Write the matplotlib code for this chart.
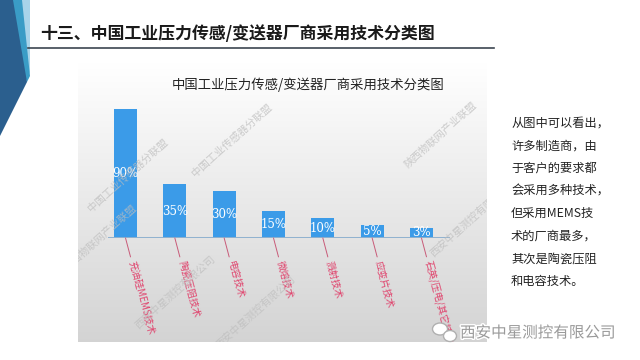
import numpy as np
import matplotlib
matplotlib.use('Agg')
import matplotlib.pyplot as plt
from matplotlib.patches import Polygon, Rectangle, Ellipse
import matplotlib.patheffects as pe

plt.rcParams['font.family'] = ['Noto Sans CJK SC', 'DejaVu Sans']

# data
categories = ['充油硅MEMS技术', '陶瓷压阻技术', '电容技术', '微熔技术',
              '溅射技术', '应变片技术', '石英/压电/其它技术']
values = [90, 35, 30, 15, 10, 5, 3]
value_labels = ['90%', '35%', '30%', '15%', '10%', '5%', '3%']
slide_title = '十三、中国工业压力传感/变送器厂商采用技术分类图'
chart_title = '中国工业压力传感/变送器厂商采用技术分类图'
side_lines = ['从图中可以看出，', '许多制造商，由', '于客户的要求都', '会采用多种技术，',
              '但采用MEMS技', '术的厂商最多，', '其次是陶瓷压阻', '和电容技术。']
marks = [('中国工业传感器分联盟', 128, 175), ('中国工业传感器分联盟', 232, 140),
         ('陕西物联网产业联盟', 440, 135), ('西安中星测控有限公司', 175, 292),
         ('西安中星测控有限公司', 255, 312), ('西安中星测控有限公司', 470, 220),
         ('陕西物联网产业联盟', 100, 238)]

W, H = 640, 360
fig = plt.figure(figsize=(6.4, 3.6), dpi=100)
fig.patch.set_facecolor('white')

def fx(x):
    return x / W

def fy(y):
    return 1 - y / H

# corner decoration
deco = [([(0, 0), (30, 0), (30, 72), (26, 82)], '#a9d4ea'),
        ([(0, 0), (22, 0), (30, 76), (27, 82)], '#3a9cc6'),
        ([(0, 0), (13, 0), (27, 82), (0, 136)], '#2b5f8e')]
for pts, c in deco:
    fig.patches.append(Polygon([(fx(a), fy(b)) for a, b in pts], closed=True,
                               transform=fig.transFigure, facecolor=c, edgecolor='none'))

# slide title + rule
fig.text(fx(40), fy(34), slide_title, fontsize=12.2, fontweight='bold', color='#1a1a1a',
         ha='left', va='center')
fig.add_artist(plt.Line2D([fx(28), fx(494)], [fy(48), fy(48)], transform=fig.transFigure,
                          color='#3c4650', lw=1.2))

# gradient panel
px0, px1, py0, py1 = 78, 487, 62, 342
bg = fig.add_axes([fx(px0), fy(py1), fx(px1 - px0), (py1 - py0) / H])
grad = np.linspace(1.0, 0.83, 200).reshape(-1, 1)
grad = np.dstack([grad, grad, grad])
bg.imshow(grad, aspect='auto', extent=[0, 1, 0, 1], origin='upper')
bg.set_axis_off()
clip_rect = Rectangle((fx(px0), fy(py1)), fx(px1 - px0), (py1 - py0) / H,
                      transform=fig.transFigure)

# watermarks
for t, x, y in marks:
    txt = fig.text(fx(x), fy(y), t, fontsize=7.5, color='#bdbdbd', rotation=42,
                   ha='center', va='center', alpha=0.75)
    txt.set_clip_path(clip_rect)

# bar chart (value axis starts slightly below zero)
floor = -4.5
ax = fig.add_axes([fx(108), fy(238), fx(342), 129 / H])
ax.patch.set_alpha(0)
x = np.arange(len(values))
vals = np.array(values, dtype=float)
ax.bar(x, vals - floor, bottom=floor, width=0.47, color='#3b9be8', zorder=2)
ax.set_xlim(-0.355, 6.578)
ax.set_ylim(floor, 90)
ax.axhline(floor, color='#8fb1cf', lw=1.4, zorder=3)
for s in ax.spines.values():
    s.set_visible(False)
ax.set_xticks([])
ax.set_yticks([])

for xi, v, lab in zip(x, vals, value_labels):
    ax.text(xi, (v + floor) / 2, lab, color='white', fontsize=8.5, family='DejaVu Serif',
            ha='center', va='center', zorder=4)

for xi, cat in zip(x, categories):
    an = ax.annotate(cat, xy=(xi, floor), xytext=(6, -23), textcoords='offset pixels',
                     fontsize=7, color='#e0456e', rotation=-75, rotation_mode='anchor',
                     ha='left', va='center', annotation_clip=False,
                     arrowprops=dict(arrowstyle='-', color='#c85a78', lw=0.7,
                                     shrinkA=0, shrinkB=0))
    an.set_clip_path(clip_rect)

fig.text(fx(308), fy(85), chart_title, fontsize=9.6, color='#222222', ha='center', va='center')

# side note
for i, line in enumerate(side_lines):
    fig.text(fx(511), fy(123 + i * 22.6), line, fontsize=8.8, color='#222222',
             ha='left', va='center')

# bottom-right watermark
fig.patches.append(Ellipse((fx(440), fy(329)), fx(15), 12 / H, transform=fig.transFigure,
                           facecolor='white', edgecolor='#b0b0b0', lw=1))
fig.patches.append(Ellipse((fx(450), fy(336)), fx(13), 11 / H, transform=fig.transFigure,
                           facecolor='white', edgecolor='#b0b0b0', lw=1))
fig.text(fx(460), fy(333), '西安中星测控有限公司', fontsize=11.2, color='#9a9a9a',
         ha='left', va='center',
         path_effects=[pe.withStroke(linewidth=2, foreground='white')])

fig.savefig('out.png', dpi=100)
